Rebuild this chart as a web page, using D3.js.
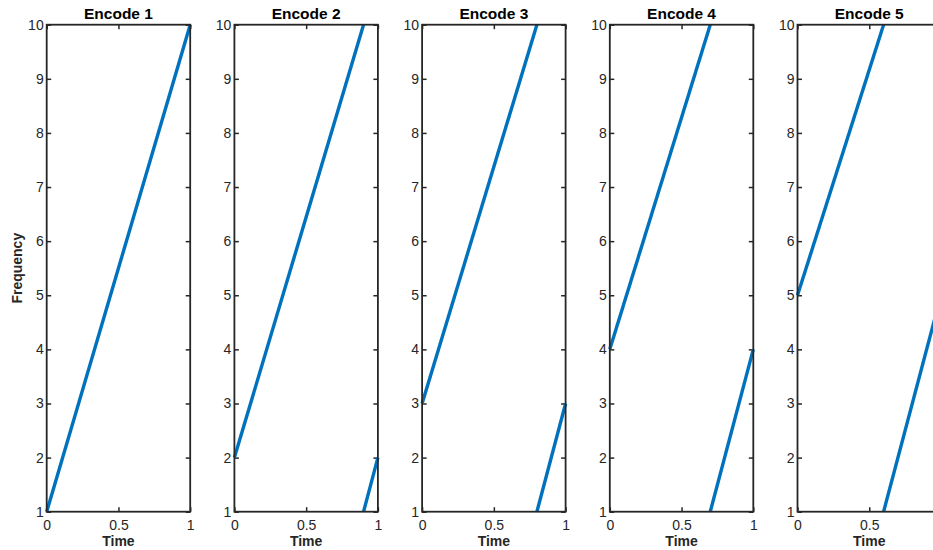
<!DOCTYPE html>
<html>
<head>
<meta charset="utf-8">
<script src="https://cdn.jsdelivr.net/npm/d3@7"></script>
<style>
  html, body { margin: 0; padding: 0; background: #fff; overflow: hidden; }
  svg { display: block; font-family: "Liberation Sans", Arial, Helvetica, sans-serif; }
</style>
</head>
<body>
<svg id="chart" width="933" height="550"></svg>
<script>
// Panel titles
const titles = ["Encode 1", "Encode 2", "Encode 3", "Encode 4", "Encode 5"];

// Each encode is a list of line segments given as [time, frequency] points;
// the sweep wraps from the top frequency back to the bottom one.
const encode1 = [[[0, 1], [1, 10]]];
const encode2 = [[[0, 2], [0.9, 10]], [[0.9, 1], [1, 2]]];
const encode3 = [[[0, 3], [0.8, 10]], [[0.8, 1], [1, 3]]];
const encode4 = [[[0, 4], [0.7, 10]], [[0.7, 1], [1, 4]]];
const encode5 = [[[0, 5], [0.6, 10]], [[0.6, 1], [1, 5]]];
const encodes = [encode1, encode2, encode3, encode4, encode5];

// Tick values
const xTicks = [0, 0.5, 1];
const xTickLabels = ["0", "0.5", "1"];
const yTicks = [1, 2, 3, 4, 5, 6, 7, 8, 9, 10];

const axisColor = "#262626";
const lineColor = "#0072BD";

const svg = d3.select("#chart");
const svgWidth = +svg.attr("width");

const panelLeft = 46.7, panelStep = 187.7, panelWidth = 143.5;
const plotTop = 24.7, plotBottom = 511.7;

const y = d3.scaleLinear().domain([1, 10]).range([plotBottom, plotTop]);

encodes.forEach((segs, i) => {
  const x0 = panelLeft + i * panelStep;
  const x = d3.scaleLinear().domain([0, 1]).range([x0, x0 + panelWidth]);
  const g = svg.append("g");

  const tickLen = 4.5;
  // tick labels that would sit past the right edge of the figure are not drawn
  const visibleX = xTicks.filter(t => x(t) + 4 < svgWidth);

  // Bottom axis (ticks pointing inward)
  const bAxis = d3.axisBottom(x).tickValues(xTicks)
    .tickFormat((d, k) => visibleX.includes(d) ? xTickLabels[k] : "")
    .tickSizeInner(-tickLen).tickSizeOuter(0).tickPadding(8);
  const gb = g.append("g").attr("transform", `translate(0,${plotBottom})`).call(bAxis);
  // Top axis (ticks only)
  const tAxis = d3.axisTop(x).tickValues(xTicks).tickFormat("").tickSizeInner(-tickLen).tickSizeOuter(0);
  const gt = g.append("g").attr("transform", `translate(0,${plotTop})`).call(tAxis);
  // Left axis
  const lAxis = d3.axisLeft(y).tickValues(yTicks).tickFormat(d3.format("d"))
    .tickSizeInner(-tickLen).tickSizeOuter(0).tickPadding(3);
  const gl = g.append("g").attr("transform", `translate(${x0},0)`).call(lAxis);
  // Right axis (ticks only)
  const rAxis = d3.axisRight(y).tickValues(yTicks).tickFormat("").tickSizeInner(-tickLen).tickSizeOuter(0);
  const gr = g.append("g").attr("transform", `translate(${x0 + panelWidth},0)`).call(rAxis);

  [gb, gt, gl, gr].forEach(a => {
    a.select(".domain").remove();
    a.attr("font-size", null).attr("font-family", null);
    a.selectAll(".tick line").attr("stroke", axisColor).attr("stroke-width", 1.5);
    a.selectAll(".tick text")
      .style("fill", axisColor)
      .style("font-size", "14px")
      .style("font-family", "'Liberation Sans', Arial, sans-serif");
  });

  // Data lines
  const line = d3.line().x(d => x(d[0])).y(d => y(d[1]));
  g.selectAll("path.sweep").data(segs).enter().append("path")
    .attr("class", "sweep")
    .attr("d", line)
    .attr("fill", "none")
    .attr("stroke", lineColor)
    .attr("stroke-width", 3.4)
    .attr("stroke-linecap", "butt");

  // Box
  g.append("rect")
    .attr("x", x0).attr("y", plotTop)
    .attr("width", panelWidth).attr("height", plotBottom - plotTop)
    .attr("fill", "none").attr("stroke", axisColor).attr("stroke-width", 1.8);

  // Title
  g.append("text")
    .attr("x", x0 + panelWidth / 2).attr("y", 19)
    .attr("text-anchor", "middle")
    .style("font-weight", "bold").style("font-size", "15.5px")
    .attr("fill", "#000")
    .text(titles[i]);

  // X label
  g.append("text")
    .attr("x", x0 + panelWidth / 2).attr("y", 546)
    .attr("text-anchor", "middle")
    .style("font-weight", "bold").style("font-size", "14px")
    .attr("fill", axisColor)
    .text("Time");
});

// Y label
svg.append("text")
  .attr("transform", `translate(21.5,${(plotTop + plotBottom) / 2}) rotate(-90)`)
  .attr("text-anchor", "middle")
  .style("font-weight", "bold").style("font-size", "14px")
  .attr("fill", axisColor)
  .text("Frequency");
</script>
</body>
</html>
